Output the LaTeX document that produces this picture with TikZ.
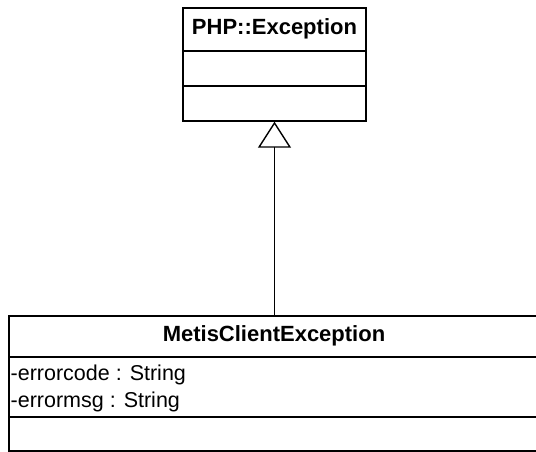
\documentclass[tikz,border=0pt]{standalone}
\usepackage{fontspec}
\setmainfont{Liberation Sans}
\usetikzlibrary{arrows.meta}

\begin{document}
\begin{tikzpicture}[x=1pt, y=-1pt, line width=1.4pt,
  classbox/.style={draw, rectangle, inner sep=0pt},
  title/.style={font=\fontsize{22}{27}\selectfont\bfseries, inner sep=0pt},
  attr/.style={font=\fontsize{21.5}{27}\selectfont, inner sep=0pt, anchor=west}]
  \useasboundingbox (0, 0) rectangle (536, 452);
  \clip (0, 0) rectangle (536, 452);
  \node [classbox, minimum width=183pt, minimum height=113pt] (exc) at (274.5, 64.5) {};
  \node [title] (exct) at (274.5, 29) {PHP::Exception};
  \draw (exc.west |- 0, 51) -- (exc.east |- 0, 51);
  \draw (exc.west |- 0, 86) -- (exc.east |- 0, 86);
  \node [classbox, minimum width=534pt, minimum height=135pt] (mce) at (276, 383.5) {};
  \node [title] (mcet) at (274, 336) {MetisClientException};
  \draw (mce.west |- 0, 357) -- (mce.east |- 0, 357);
  \node [attr] (a1) at (10, 375) {-errorcode : String};
  \node [attr] (a2) at (10, 402) {-errormsg : String};
  \draw (mce.west |- 0, 417) -- (mce.east |- 0, 417);
  \draw [-{Triangle[open, length=26pt, width=33pt]}] (mce.north -| exc.south) to (exc.south);
\end{tikzpicture}
\end{document}
